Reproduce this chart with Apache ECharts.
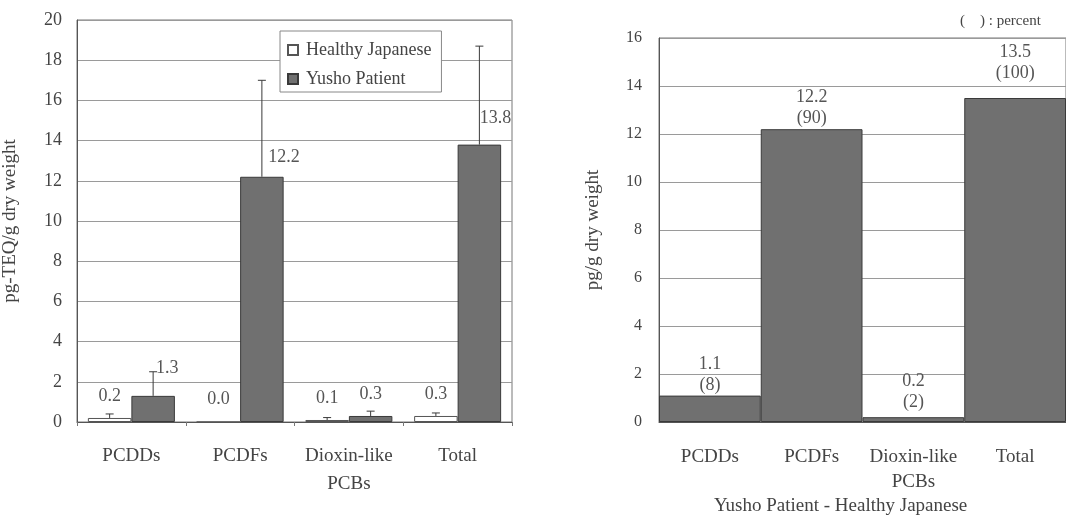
<!DOCTYPE html>
<html>
<head>
<meta charset="utf-8">
<title>Dioxin TEQ levels: Yusho patients vs healthy Japanese</title>
<script src="https://cdn.jsdelivr.net/npm/echarts@6/dist/echarts.min.js"></script>
<style>
  html, body { margin: 0; padding: 0; background: #ffffff; }
  #chart { width: 1066px; height: 520px; }
</style>
</head>
<body>
<div id="chart"></div>
<script>
// ---- data ----
const categories = ['PCDDs', 'PCDFs', 'Dioxin-like\nPCBs', 'Total'];
const healthyMeans = [0.2, 0.0, 0.1, 0.3];
const healthyUpper = [0.4, 0.0, 0.22, 0.45];     // mean + SD
const yushoMeans = [1.3, 12.2, 0.3, 13.8];
const yushoUpper = [2.5, 17.0, 0.54, 18.7];      // mean + SD
const differences = [1.1, 12.2, 0.2, 13.5];      // Yusho Patient - Healthy Japanese
const diffPercents = [8, 90, 2, 100];
const leftTicks = { min: 0, max: 20, interval: 2 };
const rightTicks = { min: 0, max: 16, interval: 2 };

// ---- style ----
const SERIF = '"Liberation Serif", "DejaVu Serif", serif';
const DARK_FILL = '#707070';
const EDGE = '#3a3a3a';
const GRID_LINE = '#9a9a9a';
const TEXT = '#444';
const LABEL = '#555';
// label nudges so the numbers clear the SD whiskers
const yushoLabelNudge = [[14, -6], [22, 2], [0, 0], [16, -4]];
const diffLabelNudge = [[0, 0], [0, 0], [0, -4], [0, -14]];

const chart = echarts.init(document.getElementById('chart'), null, { renderer: 'canvas' });

function fmt1(v) { return v.toFixed(1); }

const errorData = [];
healthyMeans.forEach((v, i) => { if (healthyUpper[i] > v) errorData.push([i, v, healthyUpper[i], 0]); });
yushoMeans.forEach((v, i) => { if (yushoUpper[i] > v) errorData.push([i, v, yushoUpper[i], 1]); });

const BAR_SHARE = 0.4;

function renderWhisker(params, api) {
  const cat = api.value(0);
  const val = api.value(1);
  const top = api.value(2);
  const side = api.value(3);
  const band = api.size([1, 0])[0];
  const bw = band * BAR_SHARE;
  const base = api.coord([cat, val]);
  const cx = base[0] + (side === 0 ? -bw / 2 : bw / 2);
  const y1 = api.coord([cat, top])[1];
  const cap = 4;
  const style = { stroke: EDGE, lineWidth: 1 };
  return {
    type: 'group',
    children: [
      { type: 'line', shape: { x1: cx, y1: base[1], x2: cx, y2: y1 }, style },
      { type: 'line', shape: { x1: cx - cap, y1: y1, x2: cx + cap, y2: y1 }, style }
    ]
  };
}

const axisLabelStyle = { fontFamily: SERIF, color: TEXT };

const option = {
  animation: false,
  backgroundColor: '#ffffff',
  textStyle: { fontFamily: SERIF },
  grid: [
    { left: 77, top: 20, width: 435, height: 402, show: true, borderColor: '#777', borderWidth: 1 },
    { left: 659, top: 38, width: 412, height: 384, show: true, borderColor: '#777', borderWidth: 1 }
  ],
  legend: {
    data: ['Healthy Japanese', 'Yusho Patient'],
    orient: 'vertical',
    left: 280,
    top: 31,
    itemWidth: 10,
    itemHeight: 10,
    itemGap: 11,
    padding: [10, 10, 4, 7],
    borderColor: '#888',
    borderWidth: 1,
    backgroundColor: '#ffffff',
    icon: 'rect',
    textStyle: { fontFamily: SERIF, fontSize: 18, color: TEXT, padding: [0, 0, 0, 3] }
  },
  xAxis: [
    {
      gridIndex: 0, type: 'category', data: categories,
      axisLine: { lineStyle: { color: '#555' } },
      axisTick: { show: true, length: 4, lineStyle: { color: '#777' } },
      axisLabel: Object.assign({ fontSize: 19, margin: 20, lineHeight: 28, interval: 0 }, axisLabelStyle)
    },
    {
      gridIndex: 1, type: 'category', data: categories,
      axisLine: { lineStyle: { color: '#555' } },
      axisTick: { show: false },
      axisLabel: Object.assign({ fontSize: 19, margin: 23, lineHeight: 25, interval: 0 }, axisLabelStyle)
    }
  ],
  yAxis: [
    {
      gridIndex: 0, type: 'value', min: leftTicks.min, max: leftTicks.max, interval: leftTicks.interval,
      name: 'pg-TEQ/g dry weight', nameLocation: 'middle', nameGap: 57,
      nameTextStyle: { fontFamily: SERIF, fontSize: 19, color: TEXT },
      axisLine: { show: true, lineStyle: { color: '#555' } },
      axisTick: { show: false },
      axisLabel: Object.assign({ fontSize: 18, margin: 15 }, axisLabelStyle),
      splitLine: { lineStyle: { color: GRID_LINE } }
    },
    {
      gridIndex: 1, type: 'value', min: rightTicks.min, max: rightTicks.max, interval: rightTicks.interval,
      name: 'pg/g dry weight', nameLocation: 'middle', nameGap: 56,
      nameTextStyle: { fontFamily: SERIF, fontSize: 19, color: TEXT },
      axisLine: { show: true, lineStyle: { color: '#555' } },
      axisTick: { show: false },
      axisLabel: Object.assign({ fontSize: 16, margin: 17 }, axisLabelStyle),
      splitLine: { lineStyle: { color: GRID_LINE } }
    }
  ],
  series: [
    {
      name: 'Healthy Japanese', type: 'bar', xAxisIndex: 0, yAxisIndex: 0,
      barWidth: (BAR_SHARE * 100) + '%', barGap: 0,
      data: healthyMeans,
      itemStyle: { color: '#ffffff', borderColor: '#555', borderWidth: 1 },
      label: {
        show: true, position: 'top', distance: 13,
        fontFamily: SERIF, fontSize: 18, color: LABEL,
        formatter: p => fmt1(p.value)
      },
      z: 2
    },
    {
      name: 'Yusho Patient', type: 'bar', xAxisIndex: 0, yAxisIndex: 0,
      barWidth: (BAR_SHARE * 100) + '%', barGap: 0,
      data: yushoMeans.map((v, i) => ({ value: v, label: { offset: yushoLabelNudge[i] } })),
      itemStyle: { color: DARK_FILL, borderColor: EDGE, borderWidth: 1 },
      label: {
        show: true, position: 'top', distance: 13,
        fontFamily: SERIF, fontSize: 18, color: LABEL,
        formatter: p => fmt1(p.value)
      },
      z: 2
    },
    {
      name: 'SD', type: 'custom', xAxisIndex: 0, yAxisIndex: 0,
      renderItem: renderWhisker,
      data: errorData,
      z: 3,
      silent: true
    },
    {
      name: 'Difference', type: 'bar', xAxisIndex: 1, yAxisIndex: 1,
      barWidth: '100%',
      data: differences.map((v, i) => ({ value: v, label: { offset: diffLabelNudge[i] } })),
      itemStyle: { color: DARK_FILL, borderColor: EDGE, borderWidth: 1 },
      label: {
        show: true, position: 'top', distance: 0,
        fontFamily: SERIF, fontSize: 18, lineHeight: 21, color: LABEL,
        formatter: p => fmt1(p.value) + '\n(' + diffPercents[p.dataIndex] + ')'
      }
    }
  ],
  graphic: [
    {
      type: 'text', left: 960, top: 14,
      style: { text: '(    ) : percent', font: '15px ' + SERIF, fill: TEXT }
    },
    {
      type: 'text', left: 714, top: 497,
      style: { text: 'Yusho Patient - Healthy Japanese', font: '19px ' + SERIF, fill: TEXT }
    }
  ]
};

chart.setOption(option);
</script>
</body>
</html>
